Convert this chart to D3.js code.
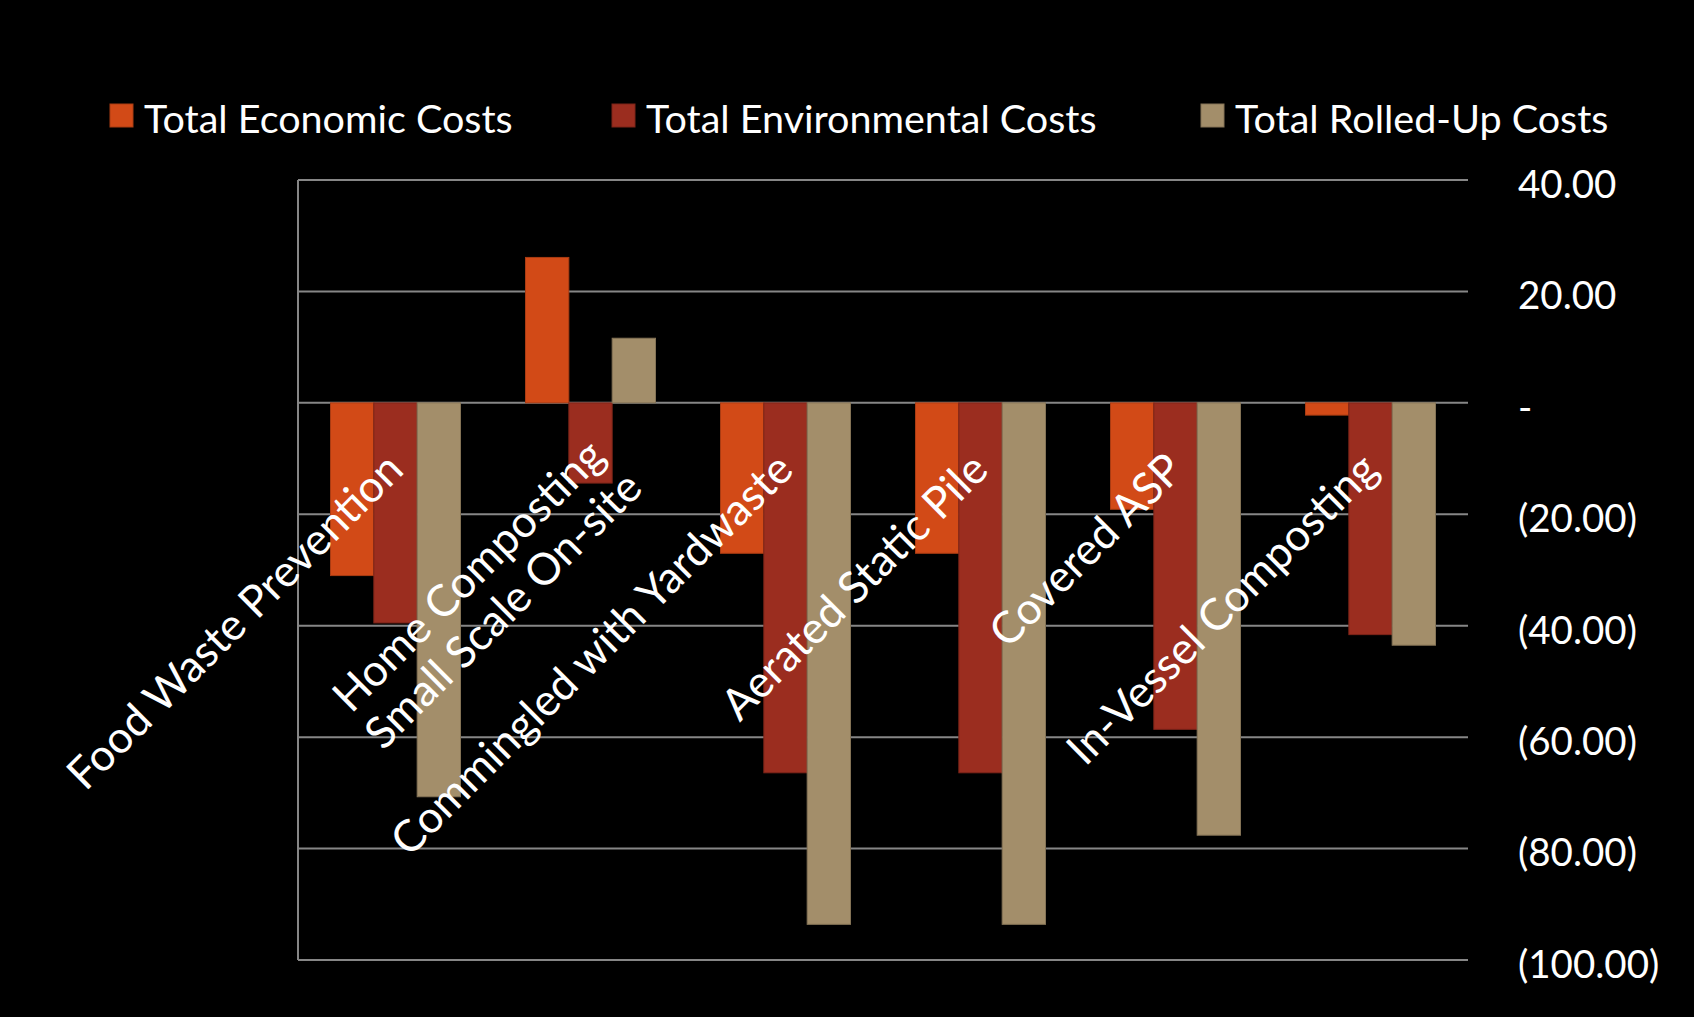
<!DOCTYPE html>
<html>
<head>
<meta charset="utf-8">
<script src="https://cdn.jsdelivr.net/npm/d3@7"></script>
<style>
  html, body { margin: 0; padding: 0; background: #000; }
  svg { display: block; }
  text { font-family: Lato, "Open Sans", sans-serif; fill: #fff; }
</style>
</head>
<body>
<svg id="chart" width="1694" height="1017"></svg>
<script>
const categories = [
  "Food Waste Prevention",
  "Home Composting\nSmall Scale On-site",
  "Commingled with Yardwaste",
  "Aerated Static Pile",
  "Covered ASP",
  "In-Vessel Composting"
];
const seriesNames = ["Total Economic Costs", "Total Environmental Costs", "Total Rolled-Up Costs"];
const seriesColors = ["#D24A17", "#9B2D1F", "#A38E6A"];
const economic = [-31.0, 26.1, -27.0, -27.0, -19.1, -2.2];
const environmental = [-39.5, -14.4, -66.4, -66.4, -58.6, -41.6];
const rolledUp = [-70.7, 11.6, -93.6, -93.6, -77.6, -43.5];
const tickValues = [40, 20, 0, -20, -40, -60, -80, -100];
const tickLabels = ["40.00", "20.00", "-", "(20.00)", "(40.00)", "(60.00)", "(80.00)", "(100.00)"];

const seriesValues = [economic, environmental, rolledUp];

const svg = d3.select("#chart");
svg.append("rect").attr("width", 1694).attr("height", 1017).attr("fill", "#000");

const plot = { left: 298, right: 1468, top: 180, bottom: 960 };

const x0 = d3.scaleBand().domain(categories).range([plot.left, plot.right]).padding(0);
const x1 = d3.scaleBand().domain(seriesNames).range([0, x0.bandwidth()])
  .paddingInner(0).paddingOuter(0.75);
const y = d3.scaleLinear().domain([-100, 40]).range([plot.bottom, plot.top]);

// gridlines
svg.append("g").selectAll("line").data(tickValues).join("line")
  .attr("x1", plot.left).attr("x2", plot.right)
  .attr("y1", d => y(d)).attr("y2", d => y(d))
  .attr("stroke", "#868686").attr("stroke-width", 2);

// left vertical axis line
svg.append("line")
  .attr("x1", plot.left).attr("x2", plot.left)
  .attr("y1", y(40)).attr("y2", y(-100))
  .attr("stroke", "#868686").attr("stroke-width", 2);

// bars
const rows = categories.map((c, i) => ({ cat: c, vals: seriesValues.map((s, j) => ({ name: seriesNames[j], v: s[i], color: seriesColors[j] })) }));
const groups = svg.append("g").selectAll("g").data(rows).join("g")
  .attr("transform", d => `translate(${x0(d.cat)},0)`);
groups.selectAll("rect").data(d => d.vals).join("rect")
  .attr("x", d => x1(d.name))
  .attr("width", x1.bandwidth())
  .attr("y", d => Math.min(y(d.v), y(0)))
  .attr("height", d => Math.abs(y(d.v) - y(0)))
  .attr("fill", d => d.color)
  .attr("stroke", d => d3.color(d.color).darker(0.6))
  .attr("stroke-width", 1);

// right axis labels
const yAxis = d3.axisRight(y).tickValues(tickValues)
  .tickFormat((d, i) => tickLabels[i]).tickSize(0).tickPadding(50);
const ya = svg.append("g").attr("transform", `translate(${plot.right},0)`).call(yAxis);
ya.select(".domain").remove();
ya.selectAll("text").attr("fill", "#fff").style("font-family", "Lato, sans-serif")
  .style("font-size", "38.5px").attr("dy", "0.45em");

// category labels (rotated -45)
const catFont = 44;
const catG = svg.append("g");
categories.forEach(c => {
  const lines = c.split("\n");
  const cx = x0(c) + x0.bandwidth() / 2 + 10;
  const g = catG.append("g").attr("transform", `translate(${cx},472) rotate(-45)`);
  if (lines.length === 1) {
    g.append("text").attr("text-anchor", "end").style("font-size", catFont + "px").text(lines[0]);
  } else {
    const texts = lines.map((l, k) => g.append("text").attr("text-anchor", "middle")
      .style("font-size", catFont + "px").attr("y", k === 0 ? -5 : 44).text(l));
    const lens = texts.map(t => t.node().getComputedTextLength());
    const lmax = d3.max(lens);
    texts.forEach(t => t.attr("x", 18 - lmax / 2));
  }
});

// legend
const legendX = [110, 612, 1201];
const lg = svg.append("g");
seriesNames.forEach((n, i) => {
  lg.append("rect").attr("x", legendX[i]).attr("y", 104).attr("width", 23).attr("height", 23)
    .attr("fill", seriesColors[i]).attr("stroke", d3.color(seriesColors[i]).darker(0.6)).attr("stroke-width", 1);
  lg.append("text").attr("x", legendX[i] + 34).attr("y", 133)
    .style("font-size", "39.5px").text(n);
});
</script>
</body>
</html>
